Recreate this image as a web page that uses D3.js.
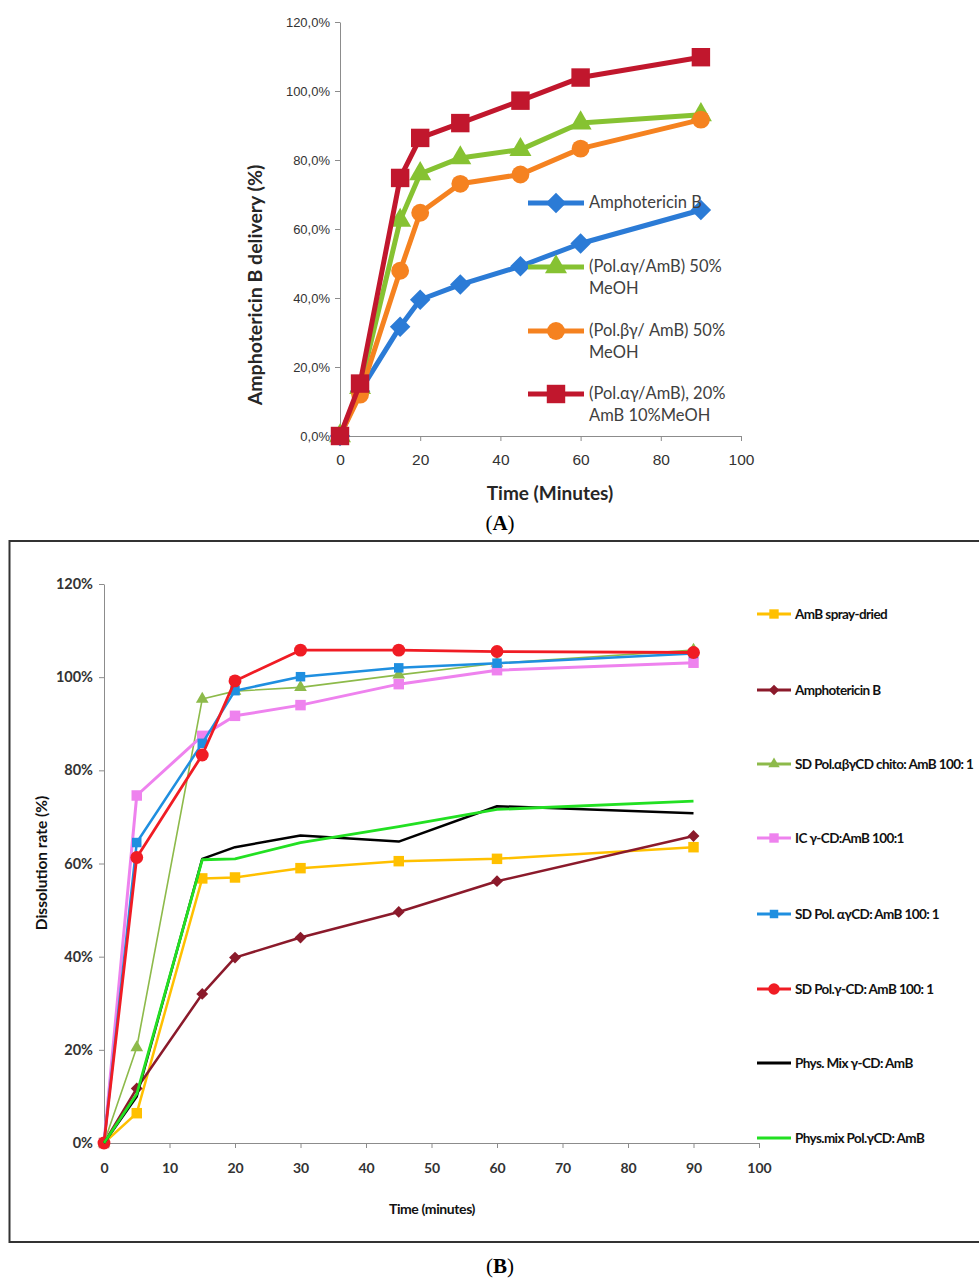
<!DOCTYPE html>
<html>
<head>
<meta charset="utf-8">
<script src="https://cdnjs.cloudflare.com/ajax/libs/d3/7.8.5/d3.min.js"></script>
<style>
  body { margin: 0; background: #fff; }
  .axis path, .axis line { stroke: #8c8c8c; }
  .axis text { fill: #333; }
  .narrow { font-family: Lato, "Open Sans", sans-serif; }
</style>
</head>
<body>
<div id="container"></div>
<script>
// ---------- panel A data ----------
const timesA = [0, 5, 15, 20, 30, 45, 60, 90];
const ampA      = [0, 13, 31.7, 39.5, 43.9, 49.2, 55.8, 65.5];
const polAg50A  = [0, 14, 62.5, 76.0, 80.6, 83.0, 90.7, 93.1];
const polBg50A  = [0, 12, 47.9, 64.7, 73.1, 75.8, 83.3, 91.7];
const polAg20A  = [0, 15.2, 74.8, 86.4, 90.7, 97.2, 103.9, 109.8];
const labelsA = [
  ["Amphotericin B"],
  ["(Pol.\u03b1\u03b3/AmB) 50%", "MeOH"],
  ["(Pol.\u03b2\u03b3/ AmB) 50%", "MeOH"],
  ["(Pol.\u03b1\u03b3/AmB), 20%", "AmB 10%MeOH"]
];
const yTicksA = [0, 20, 40, 60, 80, 100, 120];
const xTicksA = [0, 20, 40, 60, 80, 100];

// ---------- panel B data ----------
const timesB = [0, 5, 15, 20, 30, 45, 60, 90];
const sprayB   = [0, 6.4, 56.8, 57.0, 59.0, 60.5, 61.0, 63.5];
const ampB     = [0, 11.7, 32.0, 39.8, 44.1, 49.6, 56.2, 65.9];
const chitoB   = [0, 20.5, 95.3, 97.0, 97.8, 100.5, 103.0, 105.8];
const icB      = [0, 74.6, 87.4, 91.7, 94.0, 98.5, 101.5, 103.1];
const polAgB   = [0, 64.5, 85.8, 97.1, 100.1, 102.0, 103.0, 105.1];
const polGB    = [0, 61.3, 83.3, 99.2, 105.8, 105.8, 105.5, 105.3];
const mixGB    = [0, 10.0, 61.0, 63.5, 66.0, 64.7, 72.3, 70.8];
const mixPolB  = [0, 10.5, 60.8, 61.0, 64.5, 67.9, 71.6, 73.4];
const labelsB = [
  "AmB spray-dried",
  "Amphotericin B",
  "SD Pol.\u03b1\u03b2\u03b3CD chito: AmB 100: 1",
  "IC \u03b3-CD:AmB 100:1",
  "SD Pol. \u03b1\u03b3CD: AmB  100: 1",
  "SD Pol.\u03b3-CD: AmB 100: 1",
  "Phys. Mix \u03b3-CD: AmB",
  "Phys.mix Pol.\u03b3CD: AmB"
];
const yTicksB = [0, 20, 40, 60, 80, 100, 120];
const xTicksB = [0, 10, 20, 30, 40, 50, 60, 70, 80, 90, 100];

// ---------- canvas ----------
const w = 979;
const h = 1279;

const svg = d3.select("#container")
              .append("svg")
              .attr("width", w)
              .attr("height", h)
              .style("font-family", "Lato, 'Open Sans', sans-serif");

// symbol helper: diamond drawn as rotated square
function marker(g, shape, size, color, x, y) {
    if (shape === "none") return;
    let type = d3.symbolSquare, rot = 0;
    if (shape === "diamond") { rot = 45; }
    if (shape === "circle") type = d3.symbolCircle;
    if (shape === "triangle") type = d3.symbolTriangle;
    g.append("path")
     .attr("d", d3.symbol().type(type).size(size)())
     .attr("transform", "translate(" + x + "," + y + ") rotate(" + rot + ")")
     .attr("fill", color);
}

// =================== PANEL A ===================
const xA = d3.scaleLinear().domain([0, 100]).range([340, 741]);
const yA = d3.scaleLinear().domain([0, 120]).range([436, 22]);

svg.append("g")
   .attr("class", "axis")
   .attr("transform", "translate(0," + yA(0) + ")")
   .style("font-size", "15.5px")
   .call(d3.axisBottom(xA).tickValues(xTicksA).tickSize(5).tickSizeOuter(0))
   .call(g => g.selectAll("text").attr("dy", "1.35em"));

svg.append("g")
   .attr("class", "axis")
   .attr("transform", "translate(" + xA(0) + ",0)")
   .style("font-size", "13px")
   .call(d3.axisLeft(yA).tickValues(yTicksA).tickSize(5).tickSizeOuter(0)
           .tickFormat(d => d.toFixed(1).replace(".", ",") + "%"))
   .call(g => g.selectAll("text").attr("x", -10));

const seriesA = [
    { values: ampA,     color: "#2B7BD6", shape: "diamond",  size: 210 },
    { values: polAg50A, color: "#86C232", shape: "triangle", size: 210 },
    { values: polBg50A, color: "#F58220", shape: "circle",   size: 250 },
    { values: polAg20A, color: "#C1172D", shape: "square",   size: 340 }
];

const lineA = d3.line().x((d, i) => xA(timesA[i])).y(d => yA(d));

seriesA.forEach(function(s) {
    const g = svg.append("g");
    g.append("path")
     .attr("d", lineA(s.values))
     .attr("fill", "none")
     .attr("stroke", s.color)
     .attr("stroke-width", 5)
     .attr("stroke-linejoin", "round");
    s.values.forEach((v, i) => marker(g, s.shape, s.size, s.color, xA(timesA[i]), yA(v)));
});

// legend A
const legendYA = [203, 267, 331, 394];
seriesA.forEach(function(s, i) {
    const g = svg.append("g");
    g.append("line")
     .attr("x1", 528).attr("x2", 584)
     .attr("y1", legendYA[i]).attr("y2", legendYA[i])
     .attr("stroke", s.color).attr("stroke-width", 5);
    marker(g, s.shape, s.size, s.color, 556, legendYA[i]);
    labelsA[i].forEach(function(t, j) {
        g.append("text")
         .attr("x", 589)
         .attr("y", legendYA[i] + 5 + j * 22)
         .style("font-size", "16.5px")
         .attr("fill", "#404040")
         .text(t);
    });
});

// axis titles A
svg.append("text")
   .attr("transform", "translate(262," + 285 + ") rotate(-90)")
   .attr("text-anchor", "middle")
   .style("font-size", "19.5px")
   .style("font-weight", "bold")
   .attr("fill", "#262626")
   .text("Amphotericin B delivery (%)");

svg.append("text")
   .attr("x", 550)
   .attr("y", 500)
   .attr("text-anchor", "middle")
   .style("font-size", "19px")
   .style("font-weight", "bold")
   .attr("fill", "#262626")
   .text("Time (Minutes)");

// caption (A)
const capA = svg.append("text")
   .attr("x", 500).attr("y", 530)
   .attr("text-anchor", "middle")
   .style("font-family", "'Liberation Serif', 'DejaVu Serif', serif")
   .style("font-size", "21px");
capA.append("tspan").text("(");
capA.append("tspan").style("font-weight", "bold").text("A");
capA.append("tspan").text(")");

// =================== PANEL B ===================
svg.append("rect")
   .attr("x", 9.5).attr("y", 541)
   .attr("width", 990).attr("height", 701)
   .attr("fill", "none")
   .attr("stroke", "#333")
   .attr("stroke-width", 2);

const xB = d3.scaleLinear().domain([0, 100]).range([104, 759]);
const yB = d3.scaleLinear().domain([0, 120]).range([1143, 584]);

svg.append("g")
   .attr("class", "axis narrow")
   .attr("transform", "translate(0," + yB(0) + ")")
   .style("font-size", "14px")
   .style("font-weight", "bold")
   .call(d3.axisBottom(xB).tickValues(xTicksB).tickSize(5).tickSizeOuter(0))
   .call(g => g.selectAll("text").attr("dy", "1.6em").attr("fill", "#222"));

svg.append("g")
   .attr("class", "axis narrow")
   .attr("transform", "translate(" + xB(0) + ",0)")
   .style("font-size", "14.5px")
   .style("font-weight", "bold")
   .call(d3.axisLeft(yB).tickValues(yTicksB).tickSize(5).tickSizeOuter(0)
           .tickFormat(d => d + "%"))
   .call(g => g.selectAll("text").attr("x", -11).attr("fill", "#111"));

const seriesB = [
    { values: sprayB,  color: "#FFC000", shape: "square",   size: 110, width: 2.5 },
    { values: ampB,    color: "#8B1A2B", shape: "diamond",  size: 70,  width: 2.5 },
    { values: chitoB,  color: "#8DBA4A", shape: "triangle", size: 70,  width: 1.6 },
    { values: icB,     color: "#EE82EE", shape: "square",   size: 110, width: 3 },
    { values: polAgB,  color: "#1F8FE0", shape: "square",   size: 90,  width: 2.5 },
    { values: polGB,   color: "#F01C24", shape: "circle",   size: 130, width: 2.8 },
    { values: mixGB,   color: "#000000", shape: "none",     size: 0,   width: 2.5 },
    { values: mixPolB, color: "#22E022", shape: "none",     size: 0,   width: 2.8 }
];

const lineB = d3.line().x((d, i) => xB(timesB[i])).y(d => yB(d));

seriesB.forEach(function(s) {
    const g = svg.append("g");
    g.append("path")
     .attr("d", lineB(s.values))
     .attr("fill", "none")
     .attr("stroke", s.color)
     .attr("stroke-width", s.width)
     .attr("stroke-linejoin", "round");
    s.values.forEach((v, i) => marker(g, s.shape, s.size, s.color, xB(timesB[i]), yB(v)));
});

// legend B
const legendYB = [614, 690, 764, 838, 914, 989, 1063, 1138];
seriesB.forEach(function(s, i) {
    const g = svg.append("g");
    g.append("line")
     .attr("x1", 757).attr("x2", 791)
     .attr("y1", legendYB[i]).attr("y2", legendYB[i])
     .attr("stroke", s.color).attr("stroke-width", 3);
    marker(g, s.shape, s.size * 0.8, s.color, 774, legendYB[i]);
    g.append("text")
     .attr("class", "narrow")
     .attr("x", 795)
     .attr("y", legendYB[i] + 5)
     .style("font-size", "13.5px")
     .style("font-weight", "bold")
     .style("letter-spacing", "-0.6px")
     .attr("fill", "#111")
     .text(labelsB[i]);
});

// axis titles B
svg.append("text")
   .attr("class", "narrow")
   .attr("transform", "translate(47," + 863 + ") rotate(-90)")
   .attr("text-anchor", "middle")
   .style("font-size", "15.5px")
   .style("font-weight", "bold")
   .attr("fill", "#111")
   .text("Dissolution rate (%)");

svg.append("text")
   .attr("class", "narrow")
   .attr("x", 432)
   .attr("y", 1214)
   .attr("text-anchor", "middle")
   .style("font-size", "14px")
   .style("font-weight", "bold")
   .style("letter-spacing", "-0.4px")
   .attr("fill", "#111")
   .text("Time (minutes)");

// caption (B)
const capB = svg.append("text")
   .attr("x", 500).attr("y", 1273)
   .attr("text-anchor", "middle")
   .style("font-family", "'Liberation Serif', 'DejaVu Serif', serif")
   .style("font-size", "21px");
capB.append("tspan").text("(");
capB.append("tspan").style("font-weight", "bold").text("B");
capB.append("tspan").text(")");
</script>
</body>
</html>
